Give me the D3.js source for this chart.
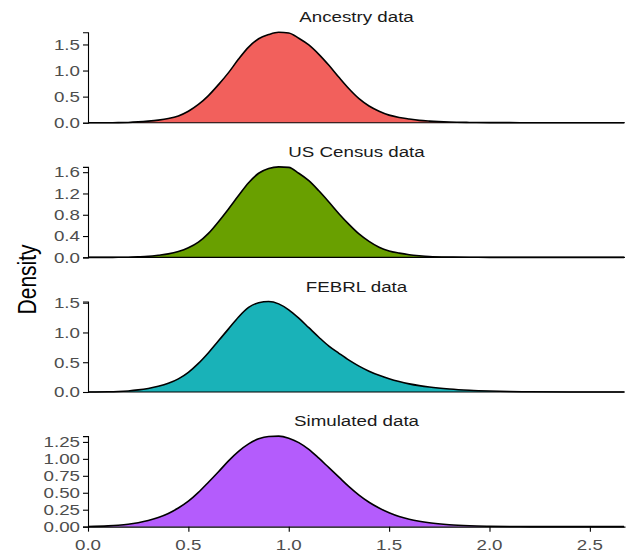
<!DOCTYPE html>
<html>
<head>
<meta charset="utf-8">
<script src="https://cdn.jsdelivr.net/npm/d3@7"></script>
<style>
  body { margin: 0; background: #fff; }
  text { font-family: "Liberation Sans", Arial, sans-serif; }
</style>
</head>
<body>
<svg id="chart" width="635" height="554"></svg>
<script>
// panel titles and fills
const panelNames = ["Ancestry data", "US Census data", "FEBRL data", "Simulated data"]
const panelColors = ["#F2605C", "#69A000", "#19B2B8", "#B45CFC"]

// shared x grid for the density estimates
const xGrid = [0, 0.1, 0.15, 0.2, 0.25, 0.3, 0.35, 0.4, 0.45, 0.5, 0.55, 0.6, 0.65, 0.7, 0.75,
  0.8, 0.85, 0.9, 0.95, 1.0, 1.05, 1.1, 1.15, 1.2, 1.25, 1.3, 1.35, 1.4, 1.45, 1.5, 1.55,
  1.6, 1.65, 1.7, 1.8, 1.9, 2.0, 2.1, 2.2, 2.4, 2.67]

// density values
const ancestry = [0, 0, 0.001, 0.005, 0.015, 0.03, 0.05, 0.08, 0.13, 0.22, 0.35, 0.52, 0.73, 0.96, 1.22,
  1.45, 1.61, 1.69, 1.735, 1.72, 1.62, 1.49, 1.31, 1.10, 0.87, 0.65, 0.46, 0.32, 0.22, 0.145, 0.10,
  0.07, 0.045, 0.03, 0.012, 0.005, 0.002, 0.001, 0, 0, 0]
const census = [0, 0, 0.001, 0.003, 0.01, 0.02, 0.04, 0.065, 0.11, 0.18, 0.285, 0.45, 0.67, 0.91, 1.16,
  1.40, 1.58, 1.67, 1.70, 1.69, 1.58, 1.44, 1.25, 1.04, 0.82, 0.62, 0.44, 0.30, 0.19, 0.12, 0.08,
  0.05, 0.03, 0.015, 0.005, 0.002, 0, 0, 0, 0, 0]
const febrl = [0, 0.003, 0.008, 0.018, 0.035, 0.06, 0.095, 0.145, 0.22, 0.33, 0.48, 0.66, 0.86, 1.06, 1.26,
  1.42, 1.50, 1.52, 1.48, 1.38, 1.24, 1.08, 0.92, 0.77, 0.65, 0.535, 0.435, 0.35, 0.28, 0.222, 0.175,
  0.137, 0.107, 0.083, 0.05, 0.029, 0.016, 0.008, 0.004, 0.001, 0]
const simulated = [0.003, 0.012, 0.021, 0.035, 0.058, 0.09, 0.135, 0.195, 0.275, 0.375, 0.505, 0.655, 0.81, 0.97, 1.11,
  1.22, 1.295, 1.33, 1.335, 1.305, 1.24, 1.14, 1.01, 0.87, 0.73, 0.59, 0.465, 0.36, 0.275, 0.205, 0.15,
  0.11, 0.08, 0.057, 0.028, 0.013, 0.006, 0.002, 0.001, 0, 0]
const panelValues = [ancestry, census, febrl, simulated]

// tick labels
const yTicks = [[0, 0.5, 1.0, 1.5], [0, 0.4, 0.8, 1.2, 1.6], [0, 0.5, 1.0, 1.5], [0, 0.25, 0.5, 0.75, 1.0, 1.25]]
const yFormats = [".1f", ".1f", ".1f", ".2f"]
const xTicks = [0, 0.5, 1.0, 1.5, 2.0, 2.5]
const xMax = 2.675

const left = 88, right = 625
const firstTop = 32.2, panelStep = 134.65, panelHeight = 90.5
// the reference text is wide and short, so text is stretched sideways
const stretch = 1.25

const svg = d3.select("#chart")

const xScale = d3.scaleLinear().domain([0, xMax]).range([left, right])

svg.append("clipPath").attr("id", "clip")
    .append("rect").attr("x", left).attr("y", 0).attr("width", right - left).attr("height", 554)

function label(x, y, txt, anchor, size, fill) {
    svg.append("text")
        .attr("transform", "translate(" + x + "," + y + ") scale(" + stretch + ",1)")
        .attr("text-anchor", anchor)
        .attr("fill", fill)
        .style("font-size", size + "px")
        .text(txt)
}

panelNames.forEach((name, i) => {
    const top = firstTop + i * panelStep
    const bottom = top + panelHeight
    const vals = panelValues[i]
    const pts = xGrid.map((x, j) => ({x: x, y: vals[j]}))

    const yScale = d3.scaleLinear()
        .domain([0, d3.max(vals)])
        .range([bottom, top])

    const area = d3.area()
        .curve(d3.curveMonotoneX)
        .x(d => xScale(d.x))
        .y0(bottom)
        .y1(d => yScale(d.y))
    const line = d3.line()
        .curve(d3.curveMonotoneX)
        .x(d => xScale(d.x))
        .y(d => yScale(d.y))

    const g = svg.append("g").attr("clip-path", "url(#clip)")
    g.append("path")
        .attr("d", area(pts))
        .attr("fill", panelColors[i])
    g.append("path")
        .attr("d", line(pts))
        .attr("fill", "none")
        .attr("stroke", "#000")
        .attr("stroke-width", 1.6)
        .attr("stroke-linejoin", "round")

    // y axis, labels drawn by hand so they can be stretched
    const yAxis = svg.append("g")
        .attr("transform", "translate(" + left + ",0)")
        .call(d3.axisLeft(yScale).tickValues(yTicks[i]).tickFormat("").tickSize(5))
    yAxis.select(".domain").attr("stroke", "#000").attr("stroke-width", 1.1)
    yAxis.selectAll(".tick line").attr("stroke", "#000").attr("stroke-width", 1.1)
    const fmt = d3.format(yFormats[i])
    yTicks[i].forEach(t => label(left - 8, yScale(t) + 5.3, fmt(t), "end", 15, "#4d4d4d"))

    if (i === panelNames.length - 1) {
        const xAxis = svg.append("g")
            .attr("transform", "translate(0," + bottom + ")")
            .call(d3.axisBottom(xScale).tickValues(xTicks).tickFormat("").tickSize(5).tickSizeOuter(0))
        xAxis.select(".domain").attr("stroke", "#000").attr("stroke-width", 1.1)
        xAxis.selectAll(".tick line").attr("stroke", "#000").attr("stroke-width", 1.1)
        xTicks.forEach(t => label(xScale(t), bottom + 23.5, d3.format(".1f")(t), "middle", 15, "#4d4d4d"))
    } else {
        svg.append("line")
            .attr("x1", left).attr("x2", right)
            .attr("y1", bottom).attr("y2", bottom)
            .attr("stroke", "#000")
            .attr("stroke-width", 1.1)
    }

    // panel title
    label((left + right) / 2, top - 10, name, "middle", 15, "#1a1a1a")
})

svg.append("text")
    .attr("transform", "translate(36," + (firstTop + (3 * panelStep + panelHeight) / 2) + ") scale(1.2,1) rotate(-90)")
    .attr("text-anchor", "middle")
    .attr("fill", "#000")
    .style("font-size", "21px")
    .text("Density")
</script>
</body>
</html>
